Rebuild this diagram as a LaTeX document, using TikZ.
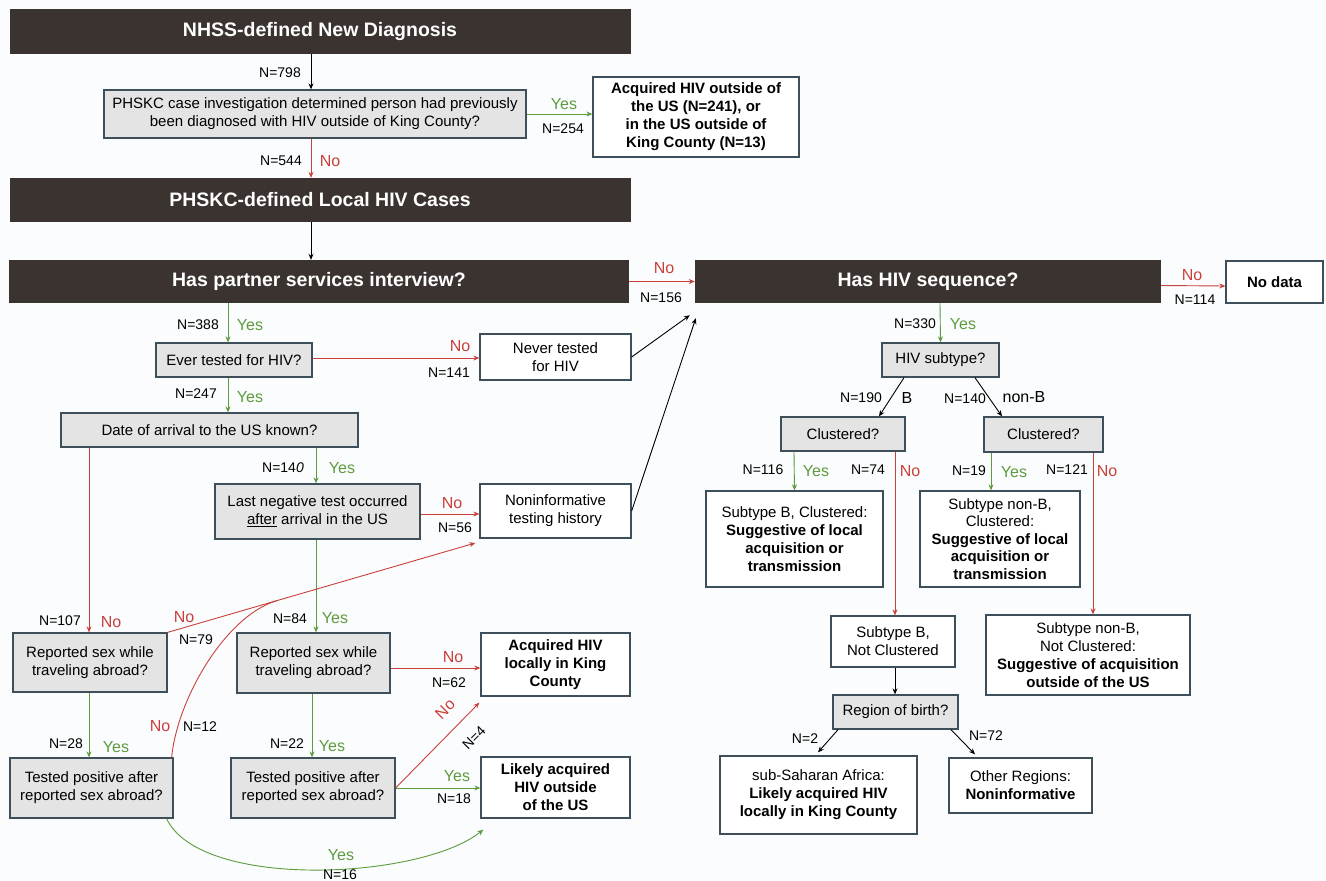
\documentclass[tikz,border=0pt]{standalone}
\usepackage{fontspec}
\setmainfont{Liberation Sans}
\usetikzlibrary{arrows.meta,calc}
\definecolor{darkbox}{HTML}{3A3330}
\definecolor{grayfill}{HTML}{E4E4E4}
\definecolor{bord}{HTML}{3F4F5A}
\definecolor{redc}{HTML}{C9403A}
\definecolor{greenc}{HTML}{5E9B3E}
\definecolor{bgc}{HTML}{FBFCFD}
\begin{document}
\begin{tikzpicture}[x=1pt,y=-1pt,
  dark/.style={fill=darkbox, draw=none, text=white, font=\fontsize{19.5}{22}\selectfont\bfseries, inner sep=0pt},
  qbox/.style={fill=grayfill, draw=bord, line width=1.3pt, font=\fontsize{15}{18}\selectfont, align=center, inner sep=0pt},
  rbox/.style={fill=white, draw=bord, line width=1.3pt, font=\fontsize{15}{18}\selectfont, align=center, inner sep=0pt},
  bbox/.style={rbox, font=\fontsize{15}{18}\selectfont\bfseries},
  lab/.style={font=\fontsize{14}{16}\selectfont, inner sep=0pt},
  yes/.style={font=\fontsize{16}{18}\selectfont, text=greenc, inner sep=0pt},
  no/.style={font=\fontsize{16}{18}\selectfont, text=redc, inner sep=0pt},
  tip/.style={-{Stealth[length=6pt,width=5pt]}},
  barr/.style={draw=black, line width=0.9pt, tip},
  garr/.style={draw=greenc, line width=0.9pt, tip},
  rarr/.style={draw=redc, line width=0.9pt, tip},
  rline/.style={draw=redc, line width=0.9pt},
]
\fill[bgc] (0,0) rectangle (1326,881);
\useasboundingbox (0,0) rectangle (1326,881);

% ---------- top section ----------
\node[dark, minimum width=621pt, minimum height=45pt] (top) at (320,31) {NHSS-defined New Diagnosis};
\node[qbox, minimum width=422pt, minimum height=48pt] (q1) at (315,114) {PHSKC case investigation determined person had previously\\been diagnosed with HIV outside of King County?};
\node[bbox, minimum width=206pt, minimum height=80pt] (r1) at (696,117) {Acquired HIV outside of\\the US (N=241), or\\in the US outside of\\King County (N=13)};
\node[dark, minimum width=621pt, minimum height=44pt] (box2) at (320,200) {PHSKC-defined Local HIV Cases};
\node[dark, minimum width=620pt, minimum height=43pt] (box3) at (319,281.5) {Has partner services interview?};
\node[dark, minimum width=466pt, minimum height=43pt] (box4) at (928,281.5) {Has HIV sequence?};
\node[bbox, minimum width=97pt, minimum height=42pt] (nodata) at (1274.5,282) {No data};

% ---------- left column ----------
\node[qbox, minimum width=156pt, minimum height=34pt] (evertested) at (234,360) {Ever tested for HIV?};
\node[rbox, minimum width=151pt, minimum height=46pt] (nevertested) at (555.5,357) {Never tested\\for HIV};
\node[qbox, minimum width=297pt, minimum height=34pt] (datearrival) at (209.5,430) {Date of arrival to the US known?};
\node[qbox, minimum width=205pt, minimum height=55pt] (lastneg) at (317.5,511.5) {Last negative test occurred\\\underline{after} arrival in the US};
\node[rbox, minimum width=151pt, minimum height=54pt] (noninf) at (555.5,511) {Noninformative\\testing history};
\node[qbox, minimum width=154pt, minimum height=59pt] (rep1) at (90,662.5) {Reported sex while\\traveling abroad?};
\node[qbox, minimum width=153pt, minimum height=60pt] (rep2) at (313.5,663) {Reported sex while\\traveling abroad?};
\node[bbox, minimum width=149pt, minimum height=63pt] (acqlocal) at (555.5,664.5) {Acquired HIV\\locally in King\\County};
\node[qbox, minimum width=163pt, minimum height=60pt] (tp1) at (91.5,788) {Tested positive after\\reported sex abroad?};
\node[qbox, minimum width=164pt, minimum height=60pt] (tp2) at (313,788) {Tested positive after\\reported sex abroad?};
\node[bbox, minimum width=149pt, minimum height=61pt] (likely) at (555.5,787.5) {Likely acquired\\HIV outside\\of the US};

% ---------- right column ----------
\node[qbox, minimum width=117pt, minimum height=34pt] (subtype) at (940.5,360) {HIV subtype?};
\node[qbox, minimum width=124pt, minimum height=34pt] (clL) at (843,434) {Clustered?};
\node[qbox, minimum width=119pt, minimum height=35pt] (clR) at (1043.5,434.5) {Clustered?};
\node[rbox, minimum width=177pt, minimum height=96pt] (sbc) at (794.5,539) {Subtype B, Clustered:\\\textbf{Suggestive of local}\\\textbf{acquisition or}\\\textbf{transmission}};
\node[rbox, minimum width=160pt, minimum height=96pt, font=\fontsize{15}{17.5}\selectfont] (snbc) at (1000,539) {Subtype non-B,\\Clustered:\\\textbf{Suggestive of local}\\\textbf{acquisition or}\\\textbf{transmission}};
\node[rbox, minimum width=124pt, minimum height=51pt] (sbnc) at (893,641.5) {Subtype B,\\Not Clustered};
\node[rbox, minimum width=204pt, minimum height=80pt] (snbnc) at (1088,655) {Subtype non-B,\\Not Clustered:\\\textbf{Suggestive of acquisition}\\\textbf{outside of the US}};
\node[qbox, minimum width=125pt, minimum height=34pt] (region) at (895.5,712) {Region of birth?};
\node[rbox, minimum width=197pt, minimum height=78pt] (ssa) at (818.5,795) {sub-Saharan Africa:\\\textbf{Likely acquired HIV}\\\textbf{locally in King County}};
\node[rbox, minimum width=143pt, minimum height=55pt] (other) at (1020.5,785.5) {Other Regions:\\\textbf{Noninformative}};

% ---------- connectors: top ----------
\draw[barr] ([xshift=-9pt]top.south) -- ([xshift=-4pt]q1.north);
\draw[garr] (q1.east) -- (r1.west |- q1.east);
\draw[rarr] ([xshift=-4pt]q1.south) -- ([xshift=-9pt]box2.north);
\draw[barr] ([xshift=-9pt]box2.south) -- ([xshift=-8pt]box3.north);
\draw[rarr] (box3.east) -- (box4.west);
\draw[rarr] ([yshift=-4pt]box4.east) -- ([yshift=-4pt]nodata.west);

% ---------- connectors: left ----------
\draw[garr] ([xshift=-91pt]box3.south) -- ([xshift=-6pt]evertested.north);
\draw[rarr] ([yshift=2pt]evertested.east) -- ([yshift=2pt]evertested.east -| nevertested.west);
\draw[barr] (nevertested.east) -- ([xshift=-5pt,yshift=-12pt]box4.south west);
\draw[garr] ([xshift=-6pt]evertested.south) -- ([xshift=18.5pt]datearrival.north);
\draw[garr] ([xshift=106.5pt]datearrival.south) -- ([xshift=-1.5pt]lastneg.north);
\draw[rarr] ([yshift=-2.5pt]lastneg.east) -- ([yshift=-2.5pt]lastneg.east -| noninf.west);
\draw[barr] (noninf.east) -- ([xshift=1pt,yshift=-15pt]box4.south west);
\draw[rarr] ([xshift=-120.5pt]datearrival.south) -- ([xshift=-1pt]rep1.north);
\draw[garr] ([xshift=-1.5pt]lastneg.south) -- ([xshift=2.5pt]rep2.north);
\coordinate (nitarget) at ([xshift=-4pt,yshift=-32pt]noninf.west);
\draw[rarr] (rep1.north east) -- (nitarget);
\coordinate (join) at ($(rep1.north east)!0.355!(nitarget)$);
\draw[rline] ([xshift=-2pt]tp1.north east) .. controls (177,700) and (225,616) .. (join);
\draw[garr] ([xshift=-1pt]rep1.south) -- ([xshift=-2.5pt]tp1.north);
\draw[garr] ([xshift=-1.5pt]rep2.south) -- ([xshift=-1pt]tp2.north);
\draw[rarr] ([yshift=-5pt]rep2.east) -- ([yshift=-5pt]rep2.east -| acqlocal.west);
\draw[rarr] (tp2.east) -- ([xshift=-1pt,yshift=-6pt]acqlocal.south west);
\draw[garr] (tp2.east) -- (tp2.east -| likely.west);
\draw[garr] ([xshift=-7pt]tp1.south east) .. controls (200,890) and (420,880) .. ([xshift=3pt,yshift=-11pt]likely.south west);

% ---------- connectors: right ----------
\draw[garr] ([xshift=12pt]box4.south) -- (subtype.north);
\draw[barr] ([xshift=-36.5pt]subtype.south) -- ([xshift=36pt]clL.north);
\draw[barr] ([xshift=34.5pt]subtype.south) -- ([xshift=-41.5pt]clR.north);
\draw[garr] ([xshift=-49pt]clL.south) -- (sbc.north);
\draw[rarr] ([xshift=52pt]clL.south) -- ([xshift=2pt]sbnc.north);
\draw[garr] ([xshift=-52.5pt]clR.south) -- ([xshift=-9pt]snbc.north);
\draw[rarr] ([xshift=49.5pt]clR.south) -- ([xshift=5pt]snbnc.north);
\draw[barr] ([xshift=2pt]sbnc.south) -- ([xshift=-0.5pt]region.north);
\draw[barr] ([xshift=-57.5pt]region.south) -- ([xshift=-0.5pt,yshift=3pt]ssa.north);
\draw[barr] ([xshift=55.5pt]region.south) -- ([xshift=-45.5pt,yshift=3pt]other.north);

% ---------- labels ----------
\node[lab] (l798) at (280,73) {N=798};
\node[yes] (y254) at (564,104) {Yes};
\node[lab] (l254) at (563,129) {N=254};
\node[lab] (l544) at (281,161) {N=544};
\node[no] (n544) at (330,161) {No};
\node[no] (n156) at (664,268) {No};
\node[lab] (l156) at (661,298) {N=156};
\node[no] (n114) at (1192,275) {No};
\node[lab] (l114) at (1195,300) {N=114};

\node[lab] (l388) at (198,325) {N=388};
\node[yes] (y388) at (250,325) {Yes};
\node[no] (n141) at (460,346) {No};
\node[lab] (l141) at (449,373) {N=141};
\node[lab] (l247) at (196,394) {N=247};
\node[yes] (y247) at (250,397) {Yes};
\node[lab] (l140a) at (283,468) {N=14\textit{0}};
\node[yes] (y140a) at (342,468) {Yes};
\node[no] (n56) at (452,503) {No};
\node[lab] (l56) at (455,528) {N=56};
\node[lab] (l107) at (60,621) {N=107};
\node[no] (n107) at (111,622) {No};
\node[no] (n79) at (184,617) {No};
\node[lab] (l79) at (196,640) {N=79};
\node[lab] (l84) at (290,619) {N=84};
\node[yes] (y84) at (335,618) {Yes};
\node[no] (n62) at (453,657) {No};
\node[lab] (l62) at (449,683) {N=62};
\node[no] (n12) at (160,726) {No};
\node[lab] (l12) at (200,727) {N=12};
\node[lab] (l28) at (66,744) {N=28};
\node[yes] (y28) at (116,747) {Yes};
\node[lab] (l22) at (287,744) {N=22};
\node[yes] (y22) at (332,746) {Yes};
\node[no, rotate=45] (n4) at (445,709) {No};
\node[lab, rotate=45] (l4) at (474,738) {N=4};
\node[yes] (y18) at (457,776) {Yes};
\node[lab] (l18) at (454,799) {N=18};
\node[yes] (y16) at (341,855) {Yes};
\node[lab] (l16) at (340,875) {N=16};

\node[lab] (l330) at (915,324) {N=330};
\node[yes] (y330) at (963,324) {Yes};
\node[lab] (l190) at (861,398) {N=190};
\node[lab, font=\fontsize{16}{18}\selectfont] (lB) at (907,398) {B};
\node[lab] (l140b) at (965,399) {N=140};
\node[lab, font=\fontsize{16}{18}\selectfont] (lnB) at (1024,397) {non-B};
\node[lab] (l116) at (763,470) {N=116};
\node[yes] (y116) at (816,471) {Yes};
\node[lab] (l74) at (868,470) {N=74};
\node[no] (n74) at (910,471) {No};
\node[lab] (l19) at (969,471) {N=19};
\node[yes] (y19) at (1014,472) {Yes};
\node[lab] (l121) at (1067,470) {N=121};
\node[no] (n121) at (1107,471) {No};
\node[lab] (l2) at (805,739) {N=2};
\node[lab] (l72) at (986,736) {N=72};
\end{tikzpicture}
\end{document}
